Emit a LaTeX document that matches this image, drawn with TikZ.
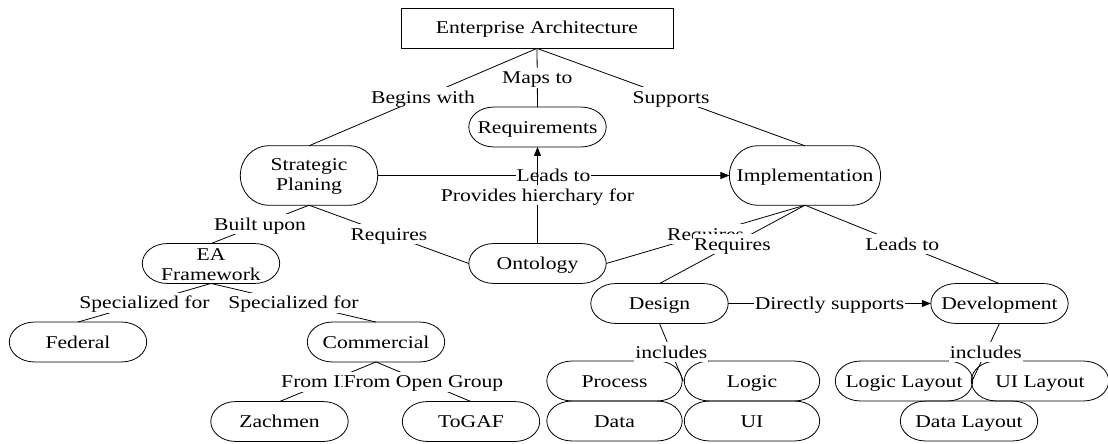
\documentclass[tikz,border=0pt]{standalone}
\usepackage{fontspec}
\setmainfont[FakeStretch=1.2]{Liberation Serif}
\usetikzlibrary{arrows.meta,calc}
\begin{document}
\begin{tikzpicture}[x=1pt,y=-1pt,
  every node/.style={font=\fontsize{18}{20}\selectfont},
  oneline/.style={text height=15pt, text depth=3pt},
  box/.style={draw, oneline, line width=0.8pt, minimum width=272pt, minimum height=40pt, inner sep=0pt},
  ovalbase/.style={minimum width=137pt, minimum height=39.5pt, inner xsep=7pt, inner ysep=0pt},
  oval/.style={ovalbase, oneline},
  twoline/.style={ovalbase, align=center},
  tall/.style={ovalbase, minimum height=59pt},
  narrow/.style={oval, minimum width=135pt},
  conn/.style={line width=0.8pt},
  arr/.style={conn, -{Triangle[length=9pt,width=7pt]}},
  lbl/.style={fill=white, inner sep=1pt, oneline, midway}
]
\useasboundingbox (0,0) rectangle (1108,444);

% nodes
\node[box] (ea) at (537,28) {Enterprise Architecture};
\node[oval] (req) at (537.5,127) {Requirements};
\node[tall, align=center] (sp) at (309,175.5) {\rule{0pt}{14pt}Strategic\\Planing};
\node[tall, oneline] (impl) at (805,175.5) {Implementation};
\node[oval] (ont) at (537.5,263.5) {Ontology};
\node[twoline] (eaf) at (211,263.5) {\rule{0pt}{14pt}EA\\Framework};
\node[oval] (fed) at (78,342) {Federal};
\node[oval] (com) at (376,342) {Commercial};
\node[oval] (zach) at (279.5,421.5) {Zachmen};
\node[oval] (togaf) at (471,421.5) {ToGAF};
\node[oval] (des) at (659.5,303.5) {Design};
\node[narrow] (proc) at (614.5,381) {Process};
\node[narrow] (logic) at (752,381) {Logic};
\node[narrow] (data) at (614.5,421) {Data};
\node[narrow] (ui) at (752,421) {UI};
\node[oval] (dev) at (999.5,303.5) {Development};
\node[oval] (ll) at (904,381) {Logic Layout};
\node[oval] (uil) at (1040,381) {UI Layout};
\node[oval] (dl) at (969,421) {Data Layout};

% oval outlines (stadium with elliptic ends)
\foreach \nd/\rx in {req/25pt,sp/28pt,impl/28pt,ont/25pt,eaf/25pt,fed/25pt,com/25pt,zach/25pt,togaf/25pt,des/25pt,proc/25pt,logic/25pt,data/25pt,ui/25pt,dev/25pt,ll/25pt,uil/25pt,dl/25pt}{
  \draw[conn] let \p1=(\nd.south west), \p2=(\nd.north east), \n1={(\y2-\y1)/2} in
    (\x1+\rx,\y2) -- (\x2-\rx,\y2)
    arc[start angle=90,end angle=-90,x radius=\rx,y radius=\n1]
    -- (\x1+\rx,\y1)
    arc[start angle=270,end angle=90,x radius=\rx,y radius=\n1] -- cycle;
}

\coordinate (dinc) at ($(proc.east)!0.5!(logic.west)$);
\coordinate (vinc) at ($(ll.east)!0.5!(uil.west)$);

% connectors
\draw[conn] (ea.south) -- node[lbl]{Begins with} (sp.north);
\draw[conn] (ea.south) -- node[lbl]{Maps to} (req.north);
\draw[conn] (ea.south) -- node[lbl]{Supports} (impl.north);
\draw[arr] (sp.east) -- node[lbl]{Leads to} (impl.west);
\draw[arr] (ont.north) -- node[lbl]{Provides hierchary for} (req.south);
\draw[conn] (sp.south) -- node[lbl]{Built upon} (eaf.north);
\draw[conn] (sp.south) -- node[lbl]{Requires} (ont.west);
\draw[conn] (ont.east) -- node[lbl]{Requires} (impl.south);
\draw[conn] (impl.south) -- node[lbl]{Requires} (des.north);
\draw[conn] (impl.south) -- node[lbl]{Leads to} (dev.north);
\draw[arr] (des.east) -- node[lbl]{Directly supports} (dev.west);
\draw[conn] (des.south) -- node[lbl]{includes} (dinc);
\draw[conn] (dev.south) -- node[lbl]{includes} (vinc);
\draw[conn] (eaf.south) -- node[lbl]{Specialized for} (fed.north);
\draw[conn] (eaf.south) -- node[lbl]{Specialized for} (com.north);
\draw[conn] (com.south) -- node[lbl]{From IBM} (zach.north);
\draw[conn] (com.south) -- node[lbl]{From Open Group} (togaf.north);
\end{tikzpicture}
\end{document}
